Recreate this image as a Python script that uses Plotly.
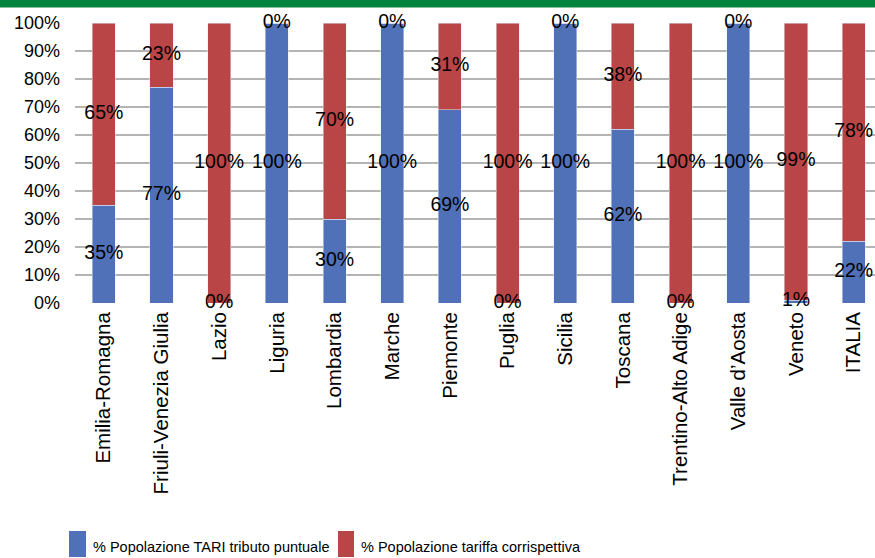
import plotly.graph_objects as go

regions = ["Emilia-Romagna", "Friuli-Venezia Giulia", "Lazio", "Liguria", "Lombardia",
           "Marche", "Piemonte", "Puglia", "Sicilia", "Toscana", "Trentino-Alto Adige",
           "Valle d’Aosta", "Veneto", "ITALIA"]
tari_puntuale = [35, 77, 0, 100, 30, 100, 69, 0, 100, 62, 0, 100, 1, 22]
tariffa_corrisp = [65, 23, 100, 0, 70, 0, 31, 100, 0, 38, 100, 0, 99, 78]
y_ticks = list(range(0, 101, 10))

name_blue = "% Popolazione TARI tributo puntuale"
name_red = "% Popolazione tariffa corrispettiva"
BLUE = "#5070B8"
RED = "#B94547"
FONT = "Liberation Sans, Arial, sans-serif"

fig = go.Figure()
fig.add_trace(go.Bar(x=regions, y=tari_puntuale, marker_color=BLUE, width=0.4,
                     showlegend=False, name=name_blue))
fig.add_trace(go.Bar(x=regions, y=tariffa_corrisp, marker_color=RED, width=0.4,
                     showlegend=False, name=name_red))

# data labels centred in segments
blue_mid = [b / 2 for b in tari_puntuale]
red_mid = [b + r / 2 for b, r in zip(tari_puntuale, tariffa_corrisp)]
fig.add_trace(go.Scatter(x=regions, y=blue_mid, mode="text",
                         text=[f"{v}%" for v in tari_puntuale],
                         textfont=dict(size=19.5, color="black", family=FONT),
                         cliponaxis=False, showlegend=False, hoverinfo="skip"))
fig.add_trace(go.Scatter(x=regions, y=red_mid, mode="text",
                         text=[f"{v}%" for v in tariffa_corrisp],
                         textfont=dict(size=19.5, color="black", family=FONT),
                         cliponaxis=False, showlegend=False, hoverinfo="skip"))

# manual legend (plot area: x 75..875 px, y 23..303 px)
def px_x(p):
    return (p - 75) / 800.0

def px_y(p):
    return (303 - p) / 280.0

legend_shapes = [
    dict(type="rect", xref="paper", yref="paper", x0=px_x(69), x1=px_x(86),
         y0=px_y(557), y1=px_y(531), fillcolor=BLUE, line=dict(width=0)),
    dict(type="rect", xref="paper", yref="paper", x0=px_x(338), x1=px_x(354),
         y0=px_y(557), y1=px_y(531), fillcolor=RED, line=dict(width=0)),
]
legend_annots = [
    dict(xref="paper", yref="paper", x=px_x(91), y=px_y(547), text=name_blue,
         showarrow=False, xanchor="left", yanchor="middle",
         font=dict(size=14.5, family=FONT, color="black")),
    dict(xref="paper", yref="paper", x=px_x(359), y=px_y(547), text=name_red,
         showarrow=False, xanchor="left", yanchor="middle",
         font=dict(size=14.5, family=FONT, color="black")),
]

fig.update_layout(
    barmode="stack",
    width=875, height=558,
    margin=dict(l=75, r=0, t=23, b=255, autoexpand=False),
    paper_bgcolor="white", plot_bgcolor="white",
    showlegend=False,
    font=dict(family=FONT, size=18, color="black"),
    xaxis=dict(range=[-0.5, 13.37], tickangle=-90, showgrid=False, zeroline=False,
               showline=False, ticks="", tickfont=dict(size=20.5, family=FONT),
               ticklabelstandoff=4, automargin=False),
    yaxis=dict(range=[0, 100], tickvals=y_ticks, ticktext=[f"{v}%" for v in y_ticks],
               showgrid=True, gridcolor="#B4B4B4", gridwidth=1.5, zeroline=False,
               showline=False, ticks="", tickfont=dict(size=18, family=FONT),
               ticklabelstandoff=14, automargin=False),
    shapes=[dict(type="rect", xref="paper", yref="paper", x0=-0.2, x1=1.2,
                 y0=px_y(7.5), y1=px_y(-20), fillcolor="#00843D", line=dict(width=0),
                 layer="above")] + legend_shapes,
    annotations=legend_annots,
)

fig.write_html("out.html", config={"displayModeBar": False},
               post_script="document.body.style.margin='0';document.body.style.overflow='hidden';")
